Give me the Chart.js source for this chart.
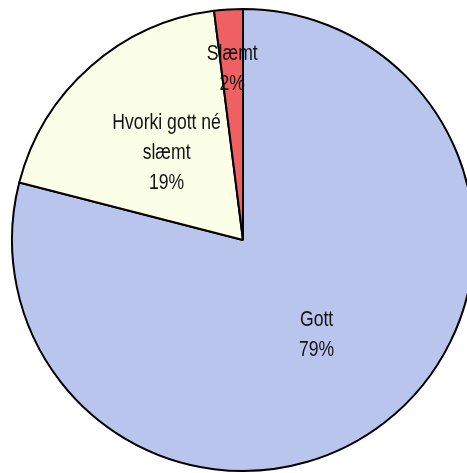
<!DOCTYPE html>
<html>
<head>
<meta charset="utf-8">
<script src="https://cdn.jsdelivr.net/npm/chart.js@4/dist/chart.umd.min.js"></script>
<style>
  html, body { margin: 0; padding: 0; background: #fff; overflow: hidden; }
  #wrap { position: absolute; left: 0; top: 0; width: 467px; height: 473px; }
</style>
</head>
<body>
<div id="wrap"><canvas id="c" width="467" height="473"></canvas></div>
<script>
const categories = ["Gott", "Hvorki gott né slæmt", "Slæmt"];
const labelLines = [["Gott"], ["Hvorki gott né", "slæmt"], ["Slæmt"]];
const values = [79, 19, 2];
const percentLabels = ["79%", "19%", "2%"];
const colors = ["#BAC5EE", "#FBFFE7", "#EF6062"];
const labelRadius = [0.52, 0.50, 0.74];

const labelPlugin = {
  id: 'sliceLabels',
  afterDatasetsDraw(chart) {
    const ctx = chart.ctx;
    const meta = chart.getDatasetMeta(0);
    const sx = 0.8;
    const lh = 30;
    meta.data.forEach((arc, i) => {
      const p = arc.getProps(['x', 'y', 'startAngle', 'endAngle', 'outerRadius']);
      const mid = (p.startAngle + p.endAngle) / 2;
      const r = p.outerRadius * labelRadius[i];
      const cx = p.x + Math.cos(mid) * r;
      const cy = p.y + Math.sin(mid) * r;
      const lines = labelLines[i].concat([percentLabels[i]]);
      const y0 = cy - (lines.length - 1) * lh / 2;
      ctx.save();
      ctx.font = '22px "Liberation Sans", Arial, sans-serif';
      ctx.fillStyle = '#141414';
      ctx.textAlign = 'center';
      ctx.textBaseline = 'middle';
      ctx.translate(cx, 0);
      ctx.scale(sx, 1);
      lines.forEach((t, k) => ctx.fillText(t, 0, y0 + k * lh));
      ctx.restore();
    });
  }
};

new Chart(document.getElementById('c'), {
  type: 'pie',
  data: {
    labels: categories,
    datasets: [{
      data: values,
      backgroundColor: colors,
      borderColor: '#000',
      borderWidth: 2,
      borderAlign: 'center',
      clip: false
    }]
  },
  options: {
    responsive: false,
    animation: false,
    radius: 231,
    layout: { padding: { left: 19, right: 0, top: 7, bottom: 0 } },
    plugins: {
      legend: { display: false },
      tooltip: { enabled: false }
    }
  },
  plugins: [labelPlugin]
});
</script>
</body>
</html>
